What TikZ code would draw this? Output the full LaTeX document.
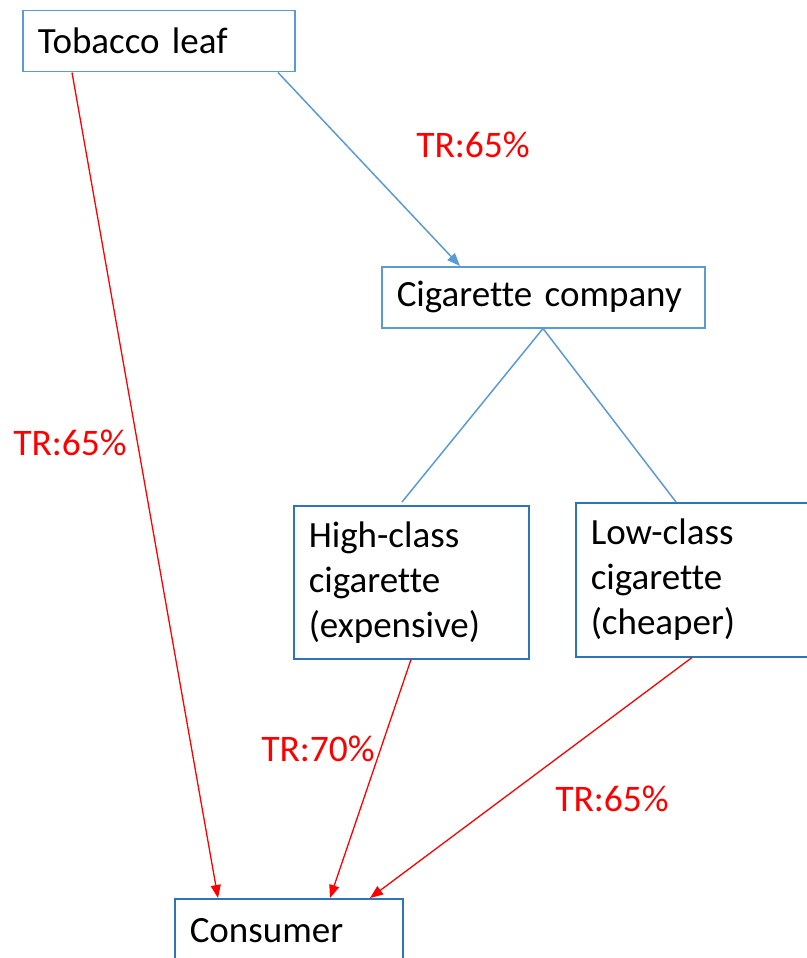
\documentclass[tikz,border=0pt]{standalone}
\usepackage{fontspec}
\setmainfont[Ligatures={NoCommon}]{Carlito}
\usetikzlibrary{arrows.meta,calc}
\definecolor{boxblueA}{HTML}{5B9BD5}
\definecolor{boxblueB}{HTML}{2E75B6}
\definecolor{lineblue}{HTML}{5B9BD5}
\definecolor{trred}{HTML}{FF0000}
\tikzset{
  nodebox/.style={draw=boxblueA, line width=1.5pt, rectangle, anchor=north west,
    inner xsep=15pt, inner ysep=0pt, align=left, text=black,
    font=\fontsize{37}{45}\selectfont},
  darkbox/.style={nodebox, draw=boxblueB},
  blueline/.style={draw=lineblue, line width=1.5pt},
  bluearrow/.style={blueline, -{Triangle[length=13pt,width=10pt]}},
  redarrow/.style={draw=trred, line width=1.3pt, -{Triangle[length=13pt,width=10pt]}},
  trlabel/.style={text=trred, font=\fontsize{37.5}{42}\selectfont, inner sep=0pt}
}
\begin{document}
\begin{tikzpicture}[x=1pt,y=1pt]
\useasboundingbox (0,-958) rectangle (806,0);
\fill[white] (0,-958) rectangle (806,0);

\node[nodebox, text width=242pt, minimum height=61pt] (tob) at (22,-10) {Tobacco leaf};
\node[nodebox, text width=293pt, minimum height=61pt] (cig) at (381,-266) {Cigarette company};
\node[darkbox, text width=205pt, minimum height=153pt] (high) at (293,-505) {High-class\\cigarette\\(expensive)};
\node[darkbox, text width=215pt, minimum height=154pt] (low) at (575,-502) {Low-class\\cigarette\\(cheaper)};
\node[darkbox, text width=198pt, minimum height=64pt] (con) at (174,-898) {Consumer};

\draw[redarrow] ($(tob.south west)+(50,0)$) -- ($(con.north west)+(44,0)$);
\draw[bluearrow] ($(tob.south west)+(256,0)$) -- ($(cig.north west)+(79,0)$);
\draw[blueline] ($(cig.south west)+(162,0)$) -- ($(high.north west)+(109,3)$);
\draw[blueline] ($(cig.south west)+(162,0)$) -- ($(low.north west)+(101,0)$);
\draw[redarrow] ($(high.south west)+(118,0)$) -- ($(con.north west)+(156,0)$);
\draw[redarrow] ($(low.south west)+(117,0)$) -- ($(con.north west)+(196,0)$);

\node[trlabel] (l1) at (473,-145) {TR:65\%};
\node[trlabel] (l2) at (70,-443) {TR:65\%};
\node[trlabel] (l3) at (318,-749) {TR:70\%};
\node[trlabel] (l4) at (612,-799) {TR:65\%};
\end{tikzpicture}
\end{document}
